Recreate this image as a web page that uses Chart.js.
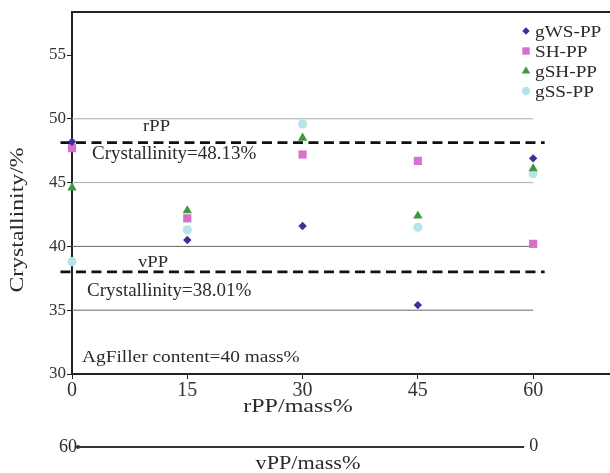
<!DOCTYPE html>
<html>
<head>
<meta charset="utf-8">
<script src="https://cdn.jsdelivr.net/npm/chart.js@4.4.1/dist/chart.umd.min.js"></script>
<style>
  html, body { margin: 0; padding: 0; background: #fff; }
</style>
</head>
<body>
<canvas id="crystal-chart" width="610" height="473"></canvas>
<script>
// rPP content in the blend (mass%); vPP makes up the rest, vPP = 60 - rPP
const rppContent = [0, 15, 30, 45, 60];
const vppTicks = [60, 0];

// crystallinity (%) for each composite
const gwsPP = [48.2, 40.5, 41.6, 35.4, 46.9];
const shPP  = [47.7, 42.2, 47.2, 46.7, 40.2];
const gshPP = [44.6, 42.8, 48.5, 42.4, 46.1];
const gssPP = [38.8, 41.3, 49.6, 41.5, 45.7];
const seriesNames = ["gWS-PP", "SH-PP", "gSH-PP", "gSS-PP"];

// neat PP reference values
const rppCrystallinity = 48.13;
const vppCrystallinity = 38.01;

const xTicks = [0, 15, 30, 45, 60];
const yTicks = [30, 35, 40, 45, 50, 55];
const gridLevels = [35, 40, 45, 50];

const FONT = '"Liberation Serif", "Times New Roman", serif';

const seriesStyle = [
  { pointStyle: "rectRot",  radius: 4.2, color: "#3b2f9c" },
  { pointStyle: "rect",     radius: 5.8, color: "#d672c9" },
  { pointStyle: "triangle", radius: 5.4, color: "#3c9a3e" },
  { pointStyle: "circle",   radius: 4.6, color: "#b5e5e7" }
];

const seriesValues = [gwsPP, shPP, gshPP, gssPP];

const pointSets = seriesValues.map((vals, i) => ({
  label: seriesNames[i],
  data: rppContent.map((x, k) => ({ x: x, y: vals[k] })),
  pointStyle: seriesStyle[i].pointStyle,
  pointRadius: seriesStyle[i].radius,
  pointBackgroundColor: seriesStyle[i].color,
  pointBorderWidth: 0,
  showLine: false,
  clip: false,
  order: 0
}));

// thin horizontal guides, stopping at the last rPP value
const gridSets = gridLevels.map(lvl => ({
  data: [{ x: rppContent[0], y: lvl }, { x: rppContent[rppContent.length - 1], y: lvl }],
  showLine: true,
  borderColor: lvl <= 40 ? "#666" : "#aaa",
  borderWidth: 1,
  pointRadius: 0,
  order: 3
}));

// dashed lines for neat rPP / vPP
const refSets = [rppCrystallinity, vppCrystallinity].map(v => ({
  data: [{ x: -1.5, y: v }, { x: 61.5, y: v }],
  showLine: true,
  borderColor: "#111",
  borderWidth: 2.8,
  borderDash: [10, 5.5],
  pointRadius: 0,
  clip: false,
  order: 2
}));

function drawText(ctx, str, x, y, size, sx, align) {
  ctx.save();
  ctx.font = size + "px " + FONT;
  ctx.fillStyle = "#2a2a2a";
  ctx.textAlign = align || "left";
  ctx.textBaseline = "alphabetic";
  ctx.translate(x, y);
  ctx.scale(sx, 1);
  ctx.fillText(str, 0, 0);
  ctx.restore();
}

const extras = {
  id: "extras",
  afterDraw(chart) {
    const ctx = chart.ctx;
    const area = chart.chartArea;
    const xs = chart.scales.x;

    // frame line along the top
    ctx.save();
    ctx.strokeStyle = "#222";
    ctx.lineWidth = 2;
    ctx.beginPath();
    ctx.moveTo(area.left - 1, area.top);
    ctx.lineTo(chart.width, area.top);
    ctx.stroke();
    ctx.restore();

    // reference line labels
    drawText(ctx, "rPP", 143, 131, 17, 1.1, "left");
    drawText(ctx, "Crystallinity=" + rppCrystallinity.toFixed(2) + "%", 92, 159, 19, 1.0, "left");
    drawText(ctx, "vPP", 138, 267, 17, 1.1, "left");
    drawText(ctx, "Crystallinity=" + vppCrystallinity.toFixed(2) + "%", 87, 296, 19, 1.0, "left");
    drawText(ctx, "AgFiller content=40 mass%", 82, 362, 17, 1.14, "left");

    // axis titles
    drawText(ctx, "rPP/mass%", 298, 412, 18.5, 1.3, "center");
    ctx.save();
    ctx.translate(23, 220);
    ctx.rotate(-Math.PI / 2);
    drawText(ctx, "Crystallinity/%", 0, 0, 19, 1.25, "center");
    ctx.restore();

    // vPP runs the other way: 60 under rPP 0, 0 under rPP 60
    const vLeft = xs.getPixelForValue(60 - vppTicks[0]) + 6;
    const vRight = xs.getPixelForValue(60 - vppTicks[1]) - 9;
    const vY = 447;
    ctx.save();
    ctx.strokeStyle = "#333";
    ctx.lineWidth = 2;
    ctx.beginPath();
    ctx.moveTo(vLeft, vY);
    ctx.lineTo(vRight, vY);
    ctx.stroke();
    ctx.fillStyle = "#333";
    ctx.beginPath();
    ctx.arc(vLeft, vY, 2, 0, Math.PI * 2);
    ctx.fill();
    ctx.restore();
    drawText(ctx, String(vppTicks[0]), vLeft - 1, 452, 18, 1.0, "right");
    drawText(ctx, String(vppTicks[1]), vRight + 5, 451, 18, 1.0, "left");
    drawText(ctx, "vPP/mass%", 308, 469, 18.5, 1.2, "center");

    // legend in the upper right corner
    seriesNames.forEach((name, i) => {
      const st = seriesStyle[i];
      const cy = 31 + i * 20;
      ctx.save();
      ctx.fillStyle = st.color;
      Chart.helpers.drawPoint(ctx, { pointStyle: st.pointStyle, radius: st.radius * 0.9, rotation: 0, borderWidth: 0 }, 526, cy);
      ctx.restore();
      drawText(ctx, name, 535, cy + 6, 17.5, 1.1, "left");
    });
  }
};

const ctx = document.getElementById("crystal-chart").getContext("2d");

new Chart(ctx, {
  type: "scatter",
  data: { datasets: pointSets.concat(refSets, gridSets) },
  options: {
    responsive: false,
    animation: false,
    layout: { autoPadding: false, padding: { top: 12, right: 0, bottom: 0, left: 0 } },
    plugins: {
      legend: { display: false },
      tooltip: { enabled: false }
    },
    scales: {
      x: {
        type: "linear",
        min: 0,
        max: 70,
        afterBuildTicks: s => { s.ticks = xTicks.map(v => ({ value: v })); },
        afterFit: s => {
          s.height = 99;
          s.paddingLeft = 0;
          s.paddingRight = 0;
        },
        border: { color: "#222", width: 2 },
        grid: { drawOnChartArea: false, drawTicks: true, tickLength: 5, color: "#222", lineWidth: 1 },
        ticks: {
          font: { family: FONT, size: 20 },
          color: "#333",
          padding: 0,
          maxRotation: 0,
          autoSkip: false
        }
      },
      y: {
        type: "linear",
        min: 30,
        max: 58.37,
        afterBuildTicks: s => { s.ticks = yTicks.map(v => ({ value: v })); },
        afterFit: s => {
          s.width = 72;
          s.paddingTop = 0;
          s.paddingBottom = 0;
        },
        border: { color: "#222", width: 2 },
        grid: { drawOnChartArea: false, drawTicks: true, tickLength: 5, color: "#222", lineWidth: 1 },
        ticks: {
          font: { family: FONT, size: 17 },
          color: "#333",
          padding: 1,
          autoSkip: false
        }
      }
    }
  },
  plugins: [extras]
});
</script>
</body>
</html>
